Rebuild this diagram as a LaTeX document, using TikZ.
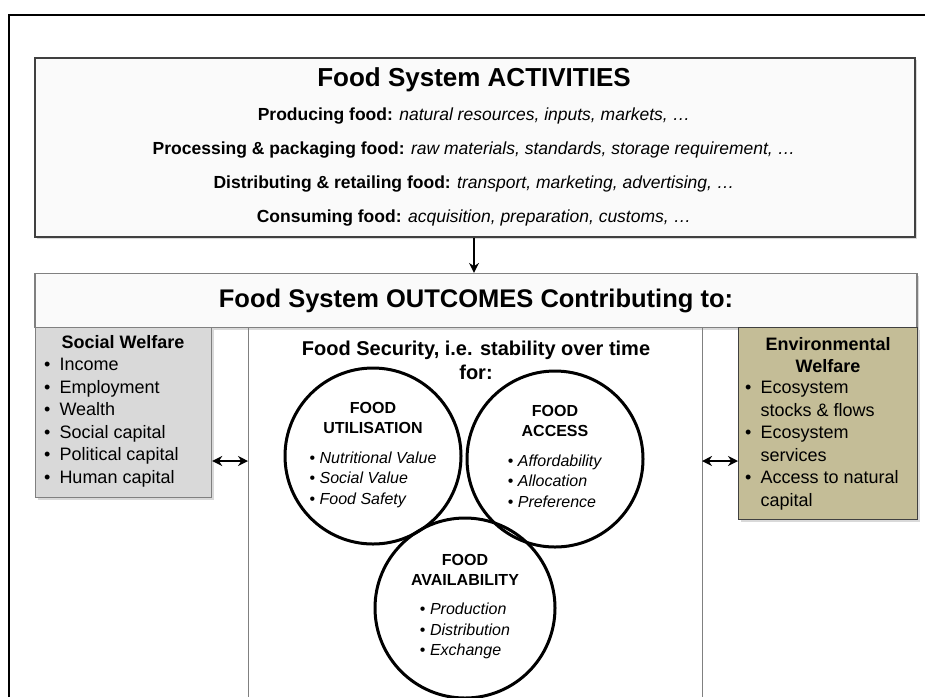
\documentclass[tikz,border=0pt]{standalone}
\usepackage{fontspec}
\setmainfont{Liberation Sans}
\usetikzlibrary{positioning,shadows,arrows.meta}

\definecolor{welfaregray}{RGB}{217,217,217}
\definecolor{envtan}{RGB}{196,189,151}
\definecolor{framegray}{RGB}{128,128,128}
\definecolor{darkframe}{RGB}{64,64,64}

\begin{document}
\begin{tikzpicture}[x=1pt,y=-1pt,node distance=34pt,on grid,
  panel/.style={draw=#1,line width=1.2pt,inner sep=0pt,fill=white!96!gray,
    drop shadow={shadow xshift=2pt,shadow yshift=-2pt,opacity=.3}},
  welfare/.style={draw=#1,line width=1.2pt,inner sep=0pt,anchor=north west,
    drop shadow={shadow xshift=2pt,shadow yshift=-2pt,opacity=.3}},
  actline/.style={font=\fontsize{17.5}{20}\selectfont},
  boxhd/.style={font=\bfseries\fontsize{18}{22.5}\selectfont,align=center},
  itemlist/.style={anchor=north west,inner sep=0pt,font=\fontsize{18}{22.5}\selectfont},
  ring/.style={circle,draw,line width=3pt,minimum size=176pt,inner sep=0pt,
    align=center,font=\fontsize{16}{20.5}\selectfont},
  >={Stealth[length=10pt,width=10pt]}]
  \useasboundingbox (0,0) rectangle (925,697);
  % outer frame
  \draw[line width=1.5pt] (9,697) -- (9,15) -- (925,15);

  % activities
  \node[panel=darkframe,minimum width=880pt,minimum height=179pt] (act) at (475,147.5) {};
  \node[font=\bfseries\fontsize{26}{30}\selectfont] (acthd) at (474,80) {Food System ACTIVITIES};
  \node[actline] (produce) [below=36pt of acthd] {\textbf{Producing food:} \textit{natural resources, inputs, markets, \dots}};
  \node[actline] (process) [below=of produce] {\textbf{Processing \& packaging food:} \textit{raw materials, standards, storage requirement, \dots}};
  \node[actline] (distrib) [below=of process] {\textbf{Distributing \& retailing food:} \textit{transport, marketing, advertising, \dots}};
  \node[actline] (consume) [below=of distrib] {\textbf{Consuming food:} \textit{acquisition, preparation, customs, \dots}};

  % outcomes
  \node[panel=framegray,minimum width=882pt,minimum height=54pt,
    font=\bfseries\fontsize{25.5}{28}\selectfont] (outc) at (476,300.5) {Food System OUTCOMES Contributing to:};
  \draw[->,line width=1.5pt] (act.south -| consume) -- (outc.north -| consume);

  \draw[framegray,line width=1pt] (248,327) -- (248,697);
  \draw[framegray,line width=1pt] (702,327) -- (702,697);
  \coordinate (panelL) at (248,461);
  \coordinate (panelR) at (702,461);

  % social welfare
  \node[welfare=framegray,fill=welfaregray,minimum width=176pt,minimum height=170pt] (social) at (35,327) {};
  \node[boxhd] (socialhd) at (123,342) {Social Welfare};
  \node[itemlist] (sociallist) at (44,355) {\begin{tabular}{@{}l@{\hspace{9pt}}l@{}}
    \textbullet & Income\\
    \textbullet & Employment\\
    \textbullet & Wealth\\
    \textbullet & Social capital\\
    \textbullet & Political capital\\
    \textbullet & Human capital
  \end{tabular}};

  % environmental welfare
  \node[welfare=darkframe,fill=envtan,minimum width=179pt,minimum height=192pt] (env) at (738,327) {};
  \node[boxhd] (envhd) at (828,355) {Environmental\\Welfare};
  \node[itemlist] (envlist) at (745,378) {\begin{tabular}{@{}l@{\hspace{9pt}}l@{}}
    \textbullet & Ecosystem\\
                & stocks \& flows\\
    \textbullet & Ecosystem\\
                & services\\
    \textbullet & Access to natural\\
                & capital
  \end{tabular}};

  \draw[<->,line width=2.2pt] (social.east |- panelL) -- (panelL);
  \draw[<->,line width=2.2pt] (panelR) -- (env.west |- panelR);

  % food security
  \node[font=\bfseries\fontsize{20}{24}\selectfont,align=center] (fsec) at (476,360) {Food Security, i.e. stability over time\\for:};

  \node[ring] (util) at (373,456) {\textbf{FOOD}\\\textbf{UTILISATION}\\[14pt]
    \begin{tabular}{@{}l@{}}
      \textbullet\ \textit{Nutritional Value}\\
      \textbullet\ \textit{Social Value}\\
      \textbullet\ \textit{Food Safety}
    \end{tabular}};
  \node[ring] (access) at (555,459) {\textbf{FOOD}\\\textbf{ACCESS}\\[14pt]
    \begin{tabular}{@{}l@{}}
      \textbullet\ \textit{Affordability}\\
      \textbullet\ \textit{Allocation}\\
      \textbullet\ \textit{Preference}
    \end{tabular}};
  \node[ring,minimum size=180pt] (avail) at (465,608) {\textbf{FOOD}\\\textbf{AVAILABILITY}\\[14pt]
    \begin{tabular}{@{}l@{}}
      \textbullet\ \textit{Production}\\
      \textbullet\ \textit{Distribution}\\
      \textbullet\ \textit{Exchange}
    \end{tabular}};
\end{tikzpicture}
\end{document}
